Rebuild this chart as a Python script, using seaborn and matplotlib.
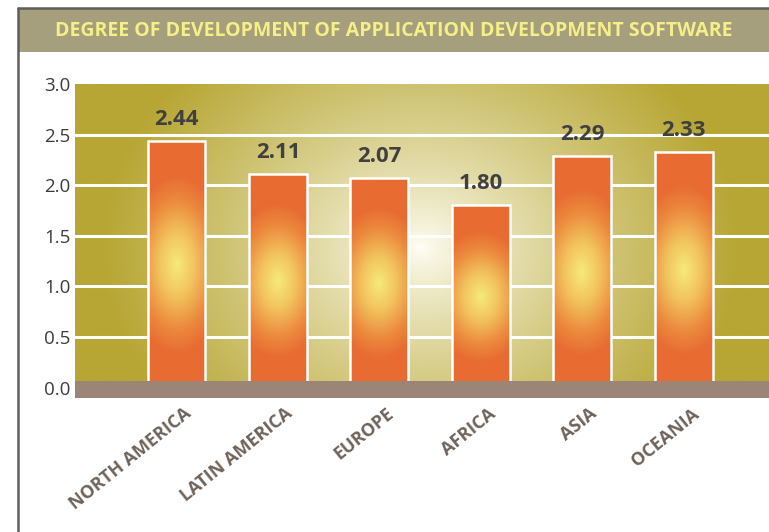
import numpy as np
import matplotlib
matplotlib.use("Agg")
import matplotlib.pyplot as plt
import matplotlib.transforms as mtrans
from matplotlib.colors import to_rgb
from matplotlib.patches import Rectangle
from matplotlib.lines import Line2D
import seaborn as sns

regions = ["NORTH AMERICA", "LATIN AMERICA", "EUROPE", "AFRICA", "ASIA", "OCEANIA"]
values = [2.44, 2.11, 2.07, 1.80, 2.29, 2.33]
yticks = [0.0, 0.5, 1.0, 1.5, 2.0, 2.5, 3.0]
title = "DEGREE OF DEVELOPMENT OF APPLICATION DEVELOPMENT SOFTWARE"

sns.set_theme(style="white")
plt.rcParams["font.family"] = ["Open Sans", "DejaVu Sans"]

W, H = 769, 532
fig = plt.figure(figsize=(W / 100, H / 100), dpi=100)
fig.patch.set_facecolor("white")

# frame and title band
fig.add_artist(Rectangle((18 / W, (H - 52) / H), 1 - 18 / W, 43 / H,
                         transform=fig.transFigure, color="#A59F7E", lw=0))
fig.add_artist(Line2D([18 / W, 1], [(H - 8) / H] * 2, color="#5E5E5E", lw=1.8))
fig.add_artist(Line2D([18 / W] * 2, [0, (H - 8) / H], color="#5E5E5E", lw=1.8))
fig.text((18 + W) / 2 / W, (H - 31) / H, title, ha="center", va="center",
         color="#F6EE86", fontsize=14, fontweight="bold")

ax = fig.add_axes([75 / W, 0.2524, 694 / W, 0.5897])
ymin, ymax = -0.1, 3.0
xmin, xmax = -1.0, 5.84

sns.barplot(x=regions, y=values, ax=ax, color="#E96B33", width=0.57,
            edgecolor="white", linewidth=1.8, zorder=3)
ax.set_xlim(xmin, xmax)
ax.set_ylim(ymin, ymax)

# background radial gradient
ny, nx = 320, 700
yy, xx = np.mgrid[0:ny, 0:nx]
px = xx / nx * 694
py = yy / ny * 314
cx, cy = 345, 150
r = np.sqrt(((px - cx) / 320) ** 2 + ((py - cy) / 260) ** 2)
t = np.clip(r, 0, 1) ** 0.8
white = np.array(to_rgb("#FFFFF6"))
olive = np.array(to_rgb("#B7A633"))
bg = white[None, None, :] * (1 - t[..., None]) + olive[None, None, :] * t[..., None]
ax.imshow(bg, extent=[xmin, xmax, ymax, ymin], aspect="auto", zorder=0,
          interpolation="bilinear")
ax.set_xlim(xmin, xmax)
ax.set_ylim(ymin, ymax)

# grid lines
for yv in yticks[1:-1]:
    ax.axhline(yv, color="white", lw=2.2, zorder=1)

# bar gradients
stops = [(0.0, to_rgb("#F6EA7C")), (0.35, to_rgb("#F2C45E")),
         (0.72, to_rgb("#EC8A3E")), (1.0, to_rgb("#E86B32"))]
def grad_color(tt):
    out = np.zeros(tt.shape + (3,))
    for (a, ca), (b, cb) in zip(stops[:-1], stops[1:]):
        m = (tt >= a) & (tt <= b)
        f = ((tt - a) / (b - a))[m][:, None]
        out[m] = np.array(ca) * (1 - f) + np.array(cb) * f
    return out

for p in ax.patches:
    x0, w, h = p.get_x(), p.get_width(), p.get_height()
    gy, gx = np.mgrid[0:200, 0:60]
    fx = (gx + 0.5) / 60 - 0.5
    fy = (gy + 0.5) / 200  # 0 top -> 1 bottom
    rr = np.sqrt((fx / 0.85) ** 2 + ((fy - 0.5) / 0.36) ** 2)
    img = grad_color(np.clip(rr, 0, 1))
    im = ax.imshow(img, extent=[x0, x0 + w, 0, h], aspect="auto", zorder=3.5,
                   interpolation="bilinear")
    im.set_clip_path(p)
    p.set_facecolor("none")
    p.set_zorder(4)
ax.set_xlim(xmin, xmax)
ax.set_ylim(ymin, ymax)

# baseline band
ax.axhspan(ymin, 0.065, color="#9B8577", lw=0, zorder=5)

# value labels
for p, v in zip(ax.patches, values):
    ax.text(p.get_x() + p.get_width() / 2, v + 0.11, f"{v:.2f}", ha="center",
            va="bottom", fontsize=16, fontweight="bold", color="#404040", zorder=6)

for s in ax.spines.values():
    s.set_visible(False)
ax.set_yticks(yticks)
ax.set_yticklabels([f"{v:.1f}" for v in yticks], fontsize=13.5, color="#3C3C3C")
ax.tick_params(axis="y", length=0, pad=3)
ax.tick_params(axis="x", length=0, pad=5)
ax.set_xticks(range(len(regions)))
ax.set_xticklabels(regions, rotation=39, ha="right", va="top",
                   rotation_mode="anchor", fontsize=13, fontweight="bold",
                   color="#6E6259")
off = mtrans.ScaledTranslation(0.07, 0, fig.dpi_scale_trans)
for lab in ax.get_xticklabels():
    lab.set_transform(lab.get_transform() + off)
ax.set_xlabel("")
ax.set_ylabel("")
ax.grid(False)

fig.savefig("out.png", dpi=100)
